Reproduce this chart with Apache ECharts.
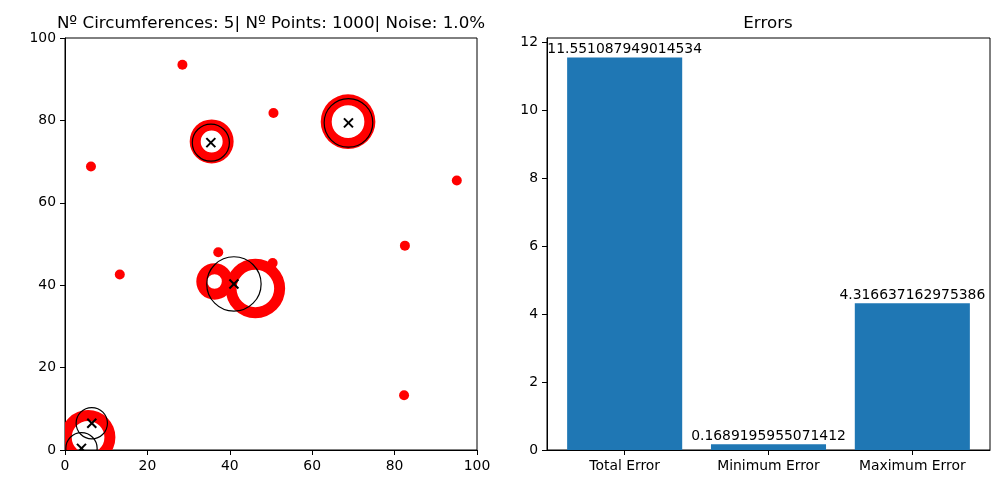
<!DOCTYPE html>
<html style="height: 100%">

<head>
    <meta charset="utf-8">
</head>

<body style="height: 100%; margin: 0; background: #fff">
    <div id="container" style="width: 1000px; height: 500px"></div>
    <script type="text/javascript" src="https://cdn.jsdelivr.net/npm/echarts@6/dist/echarts.min.js"></script>

    <script type="text/javascript">
        // left plot: red rings of noisy points (centre x, centre y, radius)
        var ringX = [35.6, 68.7, 36.3, 46.2, 5.6];
        var ringY = [74.9, 79.7, 40.9, 39.2, 3.1];
        var ringR = [4.0, 5.3, 3.1, 5.9, 5.3];

        // stray noise points
        var noiseX = [28.5, 50.6, 6.3, 95.1, 13.3, 37.2, 50.4, 82.5, 82.3];
        var noiseY = [93.5, 81.8, 68.8, 65.4, 42.6, 48.0, 45.4, 49.6, 13.3];

        // fitted circumferences (black outline + x at centre)
        var fitX = [35.4, 68.8, 41.0, 6.5, 4.0];
        var fitY = [74.6, 79.4, 40.3, 6.5, 0.4];
        var fitR = [4.5, 5.9, 6.6, 3.8, 3.8];

        // right plot
        var errNames = ['Total Error', 'Minimum Error', 'Maximum Error'];
        var errValues = [11.551087949014534, 0.1689195955071412, 4.316637162975386];
        var errTicks = [0, 2, 4, 6, 8, 10, 12];

        var FONT = 'DejaVu Sans';
        var RING_HALF = 5.5; // half thickness of the red bands, px

        var dom = document.getElementById("container");
        var myChart = echarts.init(dom, null, { renderer: 'canvas' });

        function zip3(a, b, c) {
            return a.map(function (v, i) { return [v, b[i], c[i]]; });
        }

        function axisCommon() {
            return {
                axisLine: { show: true, onZero: false, lineStyle: { color: '#000', width: 1 } },
                axisTick: { show: true, length: 5, lineStyle: { color: '#000' } },
                axisLabel: { color: '#000', fontSize: 13.9, fontFamily: FONT, margin: 9 },
                splitLine: { show: false }
            };
        }

        function ax(idx, extra) {
            return Object.assign(axisCommon(), { type: 'value', gridIndex: idx }, extra);
        }

        var titleStyle = { fontSize: 16.7, fontWeight: 'normal', color: '#000', fontFamily: FONT };

        var option = {
            animation: false,
            backgroundColor: '#fff',
            title: [{
                text: 'Nº Circumferences: 5| Nº Points: 1000| Noise: 1.0%',
                left: 271, top: 15, padding: 0, textAlign: 'center',
                textStyle: titleStyle
            }, {
                text: 'Errors',
                left: 768, top: 15, padding: 0, textAlign: 'center',
                textStyle: titleStyle
            }],
            grid: [
                { left: 65, top: 38, width: 412, height: 412, show: true, borderColor: '#000', borderWidth: 1, backgroundColor: 'transparent' },
                { left: 547, top: 38, width: 443, height: 412, show: true, borderColor: '#000', borderWidth: 1, backgroundColor: 'transparent' }
            ],
            xAxis: [
                ax(0, { min: 0, max: 100, interval: 20 }),
                ax(1, {
                    min: -0.54, max: 2.54,
                    axisTick: { show: true, length: 5, lineStyle: { color: '#000' }, customValues: [0, 1, 2] },
                    axisLabel: {
                        color: '#000', fontSize: 13.9, fontFamily: FONT, margin: 9,
                        customValues: [0, 1, 2],
                        formatter: function (v) { return errNames[Math.round(v)]; }
                    }
                })
            ],
            yAxis: [
                ax(0, { min: 0, max: 100, interval: 20 }),
                ax(1, {
                    min: 0, max: errValues[0] * 1.05,
                    axisTick: { show: true, length: 5, lineStyle: { color: '#000' }, customValues: errTicks },
                    axisLabel: {
                        color: '#000', fontSize: 13.9, fontFamily: FONT, margin: 9,
                        customValues: errTicks,
                        formatter: function (v) { return String(Math.round(v)); }
                    }
                })
            ],
            series: [{
                type: 'custom',
                name: 'rings',
                xAxisIndex: 0, yAxisIndex: 0,
                clip: true,
                data: zip3(ringX, ringY, ringR),
                renderItem: function (params, api) {
                    var c = api.coord([api.value(0), api.value(1)]);
                    var r = api.size([api.value(2), 0])[0];
                    return {
                        type: 'ring',
                        shape: { cx: c[0], cy: c[1], r: r + RING_HALF, r0: r - RING_HALF },
                        style: { fill: '#ff0000' }
                    };
                },
                z: 2
            }, {
                type: 'scatter',
                name: 'noise',
                xAxisIndex: 0, yAxisIndex: 0,
                symbolSize: 10,
                itemStyle: { color: '#ff0000', opacity: 1 },
                data: noiseX.map(function (x, i) { return [x, noiseY[i]]; }),
                z: 3
            }, {
                type: 'custom',
                name: 'fits',
                xAxisIndex: 0, yAxisIndex: 0,
                clip: true,
                data: zip3(fitX, fitY, fitR),
                renderItem: function (params, api) {
                    var c = api.coord([api.value(0), api.value(1)]);
                    var r = api.size([api.value(2), 0])[0];
                    var d = 4.5;
                    return {
                        type: 'group',
                        children: [{
                            type: 'circle',
                            shape: { cx: c[0], cy: c[1], r: r },
                            style: { fill: 'none', stroke: '#000', lineWidth: 1.2 }
                        }, {
                            type: 'line',
                            shape: { x1: c[0] - d, y1: c[1] - d, x2: c[0] + d, y2: c[1] + d },
                            style: { stroke: '#000', lineWidth: 2 }
                        }, {
                            type: 'line',
                            shape: { x1: c[0] - d, y1: c[1] + d, x2: c[0] + d, y2: c[1] - d },
                            style: { stroke: '#000', lineWidth: 2 }
                        }]
                    };
                },
                z: 4
            }, {
                type: 'custom',
                name: 'errors',
                xAxisIndex: 1, yAxisIndex: 1,
                data: errValues.map(function (v, i) { return [i, v]; }),
                renderItem: function (params, api) {
                    var i = api.value(0), v = api.value(1);
                    var tl = api.coord([i - 0.4, v]);
                    var br = api.coord([i + 0.4, 0]);
                    return {
                        type: 'group',
                        children: [{
                            type: 'rect',
                            shape: { x: tl[0], y: tl[1], width: br[0] - tl[0], height: br[1] - tl[1] },
                            style: { fill: '#1f77b4' }
                        }, {
                            type: 'text',
                            style: {
                                text: String(errValues[params.dataIndex]),
                                x: (tl[0] + br[0]) / 2, y: tl[1] - 1,
                                align: 'center', verticalAlign: 'bottom',
                                textAlign: 'center', textVerticalAlign: 'bottom',
                                fill: '#000', fontSize: 13.9, fontFamily: FONT
                            }
                        }]
                    };
                }
            }]
        };

        myChart.setOption(option);
    </script>
</body>

</html>
